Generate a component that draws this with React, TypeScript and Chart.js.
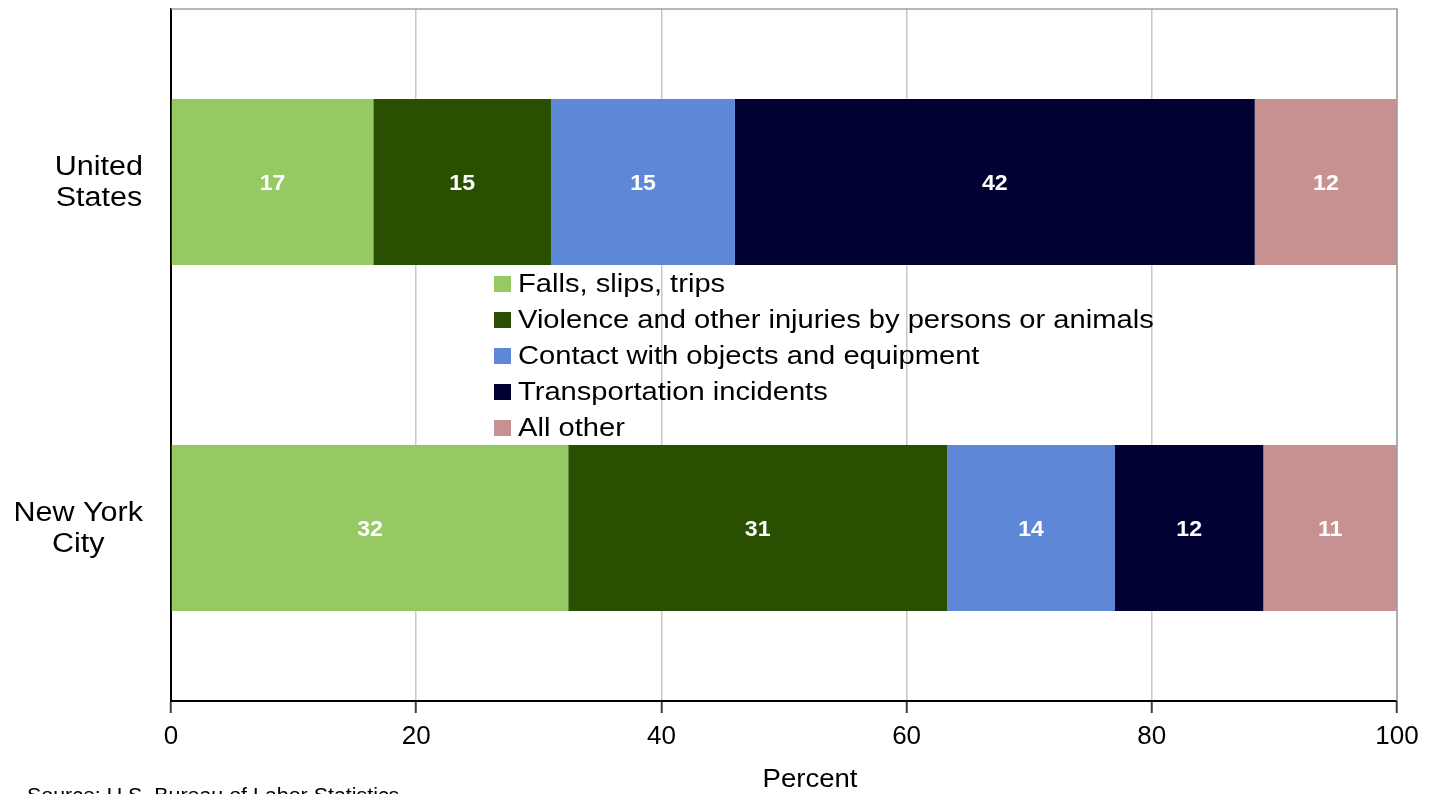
import React, { useEffect, useRef } from "react";
import { Chart, registerables } from "chart.js";

Chart.register(...registerables);

const categories = [["United", "States"], ["New York", "City"]];
const seriesNames = [
  "Falls, slips, trips",
  "Violence and other injuries by persons or animals",
  "Contact with objects and equipment",
  "Transportation incidents",
  "All other",
];
const falls = [16.5, 32.4];
const violence = [14.5, 30.9];
const contact = [15.0, 13.7];
const transportation = [42.4, 12.1];
const allOther = [11.6, 10.9];
const xTicks = [0, 20, 40, 60, 80, 100];
const xTitle = "Percent";
const sourceText = "Source: U.S. Bureau of Labor Statistics";

const colors = ["#96c864", "#285000", "#5f87d7", "#000032", "#c89191"];
const FONT = "'Liberation Sans', Arial, sans-serif";

function fillScaled(ctx: any, text: string, x: number, y: number, sx: number) {
  ctx.save();
  ctx.translate(x, y);
  ctx.scale(sx, 1);
  ctx.fillText(text, 0, 0);
  ctx.restore();
}

const customPlugin = {
  id: "custom",
  afterDatasetsDraw(chart: any) {
    const ctx = chart.ctx;
    ctx.save();
    ctx.fillStyle = "#ffffff";
    ctx.font = `bold 22px ${FONT}`;
    ctx.textAlign = "center";
    ctx.textBaseline = "middle";
    chart.data.datasets.forEach((ds: any, i: number) => {
      const meta = chart.getDatasetMeta(i);
      meta.data.forEach((el: any, j: number) => {
        const p = el.getProps(["x", "y", "base"], true);
        fillScaled(ctx, String(Math.round(ds.data[j])), (p.x + p.base) / 2, p.y + 2, 1.05);
      });
    });
    ctx.restore();
  },
  afterDraw(chart: any) {
    const ctx = chart.ctx;
    const area = chart.chartArea;
    const yScale = chart.scales.y;
    ctx.save();
    // top and right border
    ctx.strokeStyle = "#a0a0a0";
    ctx.lineWidth = 1.5;
    ctx.beginPath();
    ctx.moveTo(area.left, area.top);
    ctx.lineTo(area.right, area.top);
    ctx.lineTo(area.right, area.bottom);
    ctx.stroke();
    // category labels
    ctx.fillStyle = "#000000";
    ctx.font = `27px ${FONT}`;
    ctx.textAlign = "center";
    ctx.textBaseline = "middle";
    const catSx = 1.13;
    categories.forEach((lines, i) => {
      const cy = yScale.getPixelForValue(i) + 1;
      const maxW = Math.max(...lines.map((l) => ctx.measureText(l).width)) * catSx;
      const cx = 143 - maxW / 2;
      const lh = 31;
      const y0 = cy - ((lines.length - 1) * lh) / 2;
      lines.forEach((l, k) => fillScaled(ctx, l, cx, y0 + k * lh, catSx));
    });
    // legend
    ctx.font = `25px ${FONT}`;
    ctx.textAlign = "left";
    seriesNames.forEach((name, i) => {
      const y = 284 + i * 36;
      ctx.fillStyle = colors[i];
      ctx.fillRect(494, y - 8, 17, 16);
      ctx.fillStyle = "#000000";
      fillScaled(ctx, name, 518, y + 1, 1.165);
    });
    // axis title
    ctx.font = `25px ${FONT}`;
    ctx.textAlign = "center";
    fillScaled(ctx, xTitle, 810, 780, 1.1);
    // source
    ctx.font = `20px ${FONT}`;
    ctx.textAlign = "left";
    ctx.textBaseline = "top";
    fillScaled(ctx, sourceText, 27, 786, 1.07);
    ctx.restore();
  },
};

export default function App() {
  const ref = useRef<HTMLCanvasElement>(null);
  useEffect(() => {
    const ds = [falls, violence, contact, transportation, allOther].map((d, i) => ({
      label: seriesNames[i],
      data: d,
      backgroundColor: colors[i],
      borderWidth: 0,
      barPercentage: 0.48,
      categoryPercentage: 1,
    }));
    const chart = new Chart(ref.current!, {
      type: "bar",
      data: { labels: categories.map((c) => c.join(" ")), datasets: ds },
      options: {
        indexAxis: "y",
        animation: false,
        responsive: false,
        devicePixelRatio: 1,
        layout: { padding: { left: 0, right: 39, top: 9, bottom: 0 } },
        plugins: { legend: { display: false }, tooltip: { enabled: false }, title: { display: false } },
        scales: {
          x: {
            stacked: true,
            min: 0,
            max: 100,
            afterBuildTicks: (scale: any) => {
              scale.ticks = xTicks.map((v) => ({ value: v }));
            },
            afterFit: (scale: any) => {
              scale.height = 93;
            },
            grid: {
              color: "#c8c8c8",
              lineWidth: 1.5,
              tickLength: 12,
              tickColor: "#404040",
              tickWidth: 2,
            },
            border: { color: "#000000", width: 2 },
            ticks: {
              color: "#000000",
              font: { family: FONT, size: 26 },
              padding: 8,
              maxRotation: 0,
            },
          },
          y: {
            stacked: true,
            afterFit: (scale: any) => {
              scale.width = 171;
            },
            grid: { display: false },
            border: { color: "#000000", width: 2 },
            ticks: { display: false },
          },
        },
      },
      plugins: [customPlugin],
    });
    return () => chart.destroy();
  }, []);
  return (
    <div style={{ position: "fixed", left: 0, top: 0, width: 1436, height: 794, background: "#fff" }}>
      <canvas ref={ref} width={1436} height={794} style={{ display: "block" }} />
    </div>
  );
}
